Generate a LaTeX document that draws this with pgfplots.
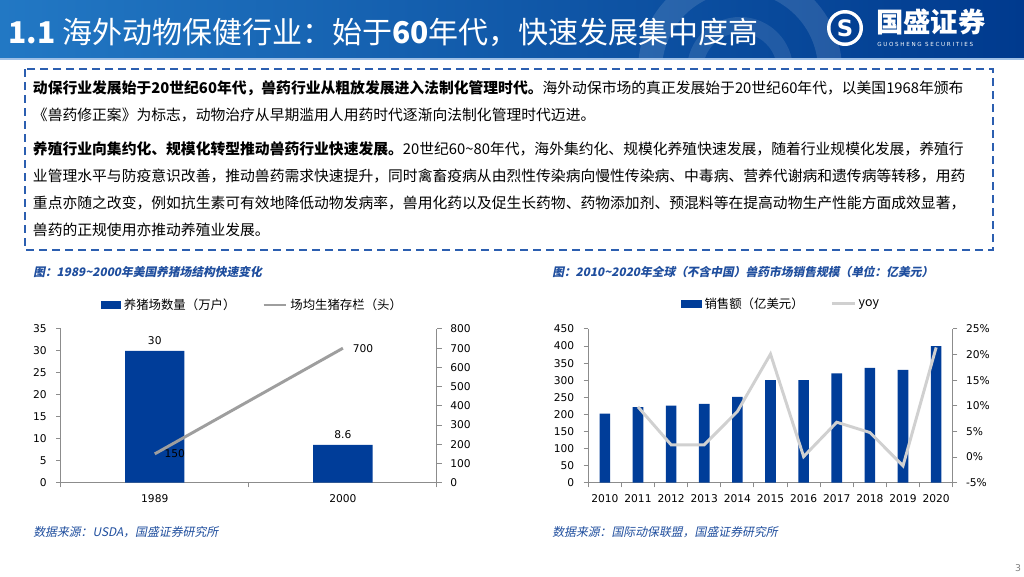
\documentclass[border=0pt]{standalone}
\usepackage{fontspec}
\setmainfont{Noto Sans CJK SC}
\newfontfamily\cjkit{Noto Sans CJK SC}[FakeSlant=0.2]
\newfontfamily\dv{DejaVu Sans}
\newfontfamily\dvsp{DejaVu Sans}[LetterSpace=30]
\usepackage{pgfplots}
\pgfplotsset{compat=1.18}

\definecolor{barblue}{HTML}{003D99}
\definecolor{ttlblue}{HTML}{1F4E9E}
\definecolor{hdrL}{HTML}{2278C4}
\definecolor{hdrR}{HTML}{003A8E}
\definecolor{hdrline}{HTML}{9FC0E6}
\definecolor{axgray}{HTML}{8C8C8C}
\definecolor{linegray}{HTML}{9E9E9E}
\definecolor{yoygray}{HTML}{D0D0D0}
\definecolor{dashblue}{HTML}{2C5FB0}

\newcommand\tk{\dv\fontsize{8}{9.6}\selectfont}
\newcommand\leg{\fontsize{9.3}{11}\selectfont}
\newcommand\body{\fontsize{11.1}{13}\selectfont}

\pgfplotsset{
  base/.style={scale only axis, anchor=south west,
    axis line style={axgray, line width=0.75pt},
    every tick/.style={axgray, line width=0.75pt},
    major tick length=3.5pt, tick align=outside,
    tick label style={font=\tk, text=black},
    xticklabel style={yshift=-1.5pt},
    /pgf/number format/assume math mode=true, clip=false},
  leftax/.style={yticklabel style={xshift=-3.5pt}},
  rightax/.style={yticklabel style={xshift=3pt}},
  leg/.style={legend style={at={#1}, anchor=center, legend columns=2,
    draw=none, fill=none, font=\leg, inner sep=0pt,
    /tikz/every even column/.append style={column sep=18pt}}},
}

\begin{document}
\begin{tikzpicture}[x=0.75pt,y=-0.75pt]
\useasboundingbox (0,0) rectangle (1024,576);
\fill[white] (0,0) rectangle (1024,576);

% header band
\shade[left color=hdrL, right color=hdrR] (0,0) rectangle (1024,58);
\begin{scope}
  \clip (0,0) rectangle (1024,58);
  \draw[white, opacity=0.12, line width=18pt] (740,70) circle (90);
  \draw[white, opacity=0.10, line width=12pt] (740,70) circle (45);
\end{scope}
\draw[hdrline, line width=1.2pt] (0,59) -- (1024,59);
\node[anchor=base west, inner sep=0, text=white, font=\fontsize{22.5}{22.5}\selectfont]
  at (8,43) {\textbf{1.1} 海外动物保健行业：始于\textbf{60}年代，快速发展集中度高};

% logo
\fill[white] (845,28) circle (18);
\fill[hdrR!90!hdrL] (845,28) circle (14.5);
\node[text=white, font=\dv\bfseries\fontsize{17}{17}\selectfont] at (845,28) {S};
\node[anchor=west, inner sep=0, text=white, font=\bfseries\fontsize{20.5}{20.5}\selectfont]
  at (876,22) {国盛证券};
\node[anchor=west, inner sep=0, text=white, font=\dvsp\fontsize{4.2}{4.2}\selectfont]
  at (877,44) {GUOSHENG SECURITIES};

% text box
\draw[dashblue, line width=1.5pt, dash pattern=on 6pt off 3.75pt] (25,69) rectangle (993,250);
\begin{scope}[every node/.style={anchor=base west, inner sep=0, font=\body}]
\node at (32.7,93.5) {\textbf{动保行业发展始于20世纪60年代，兽药行业从粗放发展进入法制化管理时代。}海外动保市场的真正发展始于20世纪60年代，以美国1968年颁布};
\node at (32.7,120.5) {《兽药修正案》为标志，动物治疗从早期滥用人用药时代逐渐向法制化管理时代迈进。};
\node at (32.7,154) {\textbf{养殖行业向集约化、规模化转型推动兽药行业快速发展。}20世纪60\textasciitilde80年代，海外集约化、规模化养殖快速发展，随着行业规模化发展，养殖行};
\node at (32.7,181.5) {业管理水平与防疫意识改善，推动兽药需求快速提升，同时禽畜疫病从由烈性传染病向慢性传染病、中毒病、营养代谢病和遗传病等转移，用药};
\node at (32.7,208.5) {重点亦随之改变，例如抗生素可有效地降低动物发病率，兽用化药以及促生长药物、药物添加剂、预混料等在提高动物生产性能方面成效显著，};
\node at (32.7,235.5) {兽药的正规使用亦推动养殖业发展。};
\end{scope}

% chart titles and sources
\begin{scope}[every node/.style={anchor=west, inner sep=0, text=ttlblue}]
\node[font=\cjkit\bfseries\fontsize{8.8}{11}\selectfont] at (33,271.7) {图：1989\textasciitilde2000年美国养猪场结构快速变化};
\node[font=\cjkit\bfseries\fontsize{8.8}{11}\selectfont] at (552,271.7) {图：2010\textasciitilde2020年全球（不含中国）兽药市场销售规模（单位：亿美元）};
\node[font=\cjkit\fontsize{8.9}{11}\selectfont] at (33,531.7) {数据来源：USDA，国盛证券研究所};
\node[font=\cjkit\fontsize{8.9}{11}\selectfont] at (552,531.7) {数据来源：国际动保联盟，国盛证券研究所};
\end{scope}
\node[text=gray, font=\dv\fontsize{7}{7}\selectfont] at (1018,568) {3};

% left chart
\coordinate (LA) at (60.7,482.7);
\begin{axis}[base, leftax, at={(LA)}, width=282.2pt, height=115.3pt,
  xmin=-0.5, xmax=1.5, ymin=0, ymax=35, ytick={0,5,...,35},
  xtick={-0.5,0.5,1.5}, x tick label as interval, xticklabels={1989,2000},
  axis x line*=bottom, axis y line*=left, leg={(0.51,1.156)}]
\addplot[ybar, bar width=44.5pt, fill=barblue, draw=none,
  nodes near coords, every node near coord/.append style={font=\tk, text=black, yshift=1pt},
  legend image code/.code={\fill[barblue] (0pt,-2.9pt) rectangle (15.5pt,2.9pt);}]
  coordinates {(0,30) (1,8.6)};
\addlegendentry{养猪场数量（万户）}
\addlegendimage{legend image code/.code={\draw[linegray,line width=2.2pt] (0pt,0pt) -- (17pt,0pt);}}
\addlegendentry{场均生猪存栏（头）}
\end{axis}
\begin{axis}[base, rightax, at={(LA)}, width=282.2pt, height=115.3pt,
  xmin=-0.5, xmax=1.5, ymin=0, ymax=800, ytick={0,100,...,800},
  axis y line*=right, axis x line=none]
\addplot[linegray, line width=2.2pt, nodes near coords,
  every node near coord/.append style={anchor=west, font=\tk, text=black, xshift=3pt}]
  coordinates {(0,150) (1,700)};
\end{axis}

% right chart
\coordinate (RA) at (588.3,482.7);
\begin{axis}[base, leftax, at={(RA)}, width=273.3pt, height=115.3pt,
  xmin=-0.5, xmax=10.5, ymin=0, ymax=450, ytick={0,50,...,450},
  xtick={-0.5,0.5,...,10.5}, x tick label as interval,
  xticklabels={2010,2011,2012,2013,2014,2015,2016,2017,2018,2019,2020},
  axis x line*=bottom, axis y line*=left, leg={(0.53,1.163)}]
\addplot[ybar, bar width=8pt, fill=barblue, draw=none,
  legend image code/.code={\fill[barblue] (0pt,-2.9pt) rectangle (15.5pt,2.9pt);}]
  coordinates {(0,202) (1,221) (2,226) (3,231) (4,251) (5,300) (6,300) (7,320) (8,336) (9,330) (10,400)};
\addlegendentry{销售额（亿美元）}
\addlegendimage{legend image code/.code={\draw[yoygray,line width=2.2pt] (0pt,0pt) -- (17pt,0pt);}}
\addlegendentry{yoy}
\end{axis}
\begin{axis}[base, rightax, at={(RA)}, width=273.3pt, height=115.3pt,
  xmin=-0.5, xmax=10.5, ymin=-5, ymax=25, ytick={-5,0,...,25},
  yticklabel={\pgfmathprintnumber{\tick}\%},
  axis y line*=right, axis x line=none]
\addplot[yoygray, line width=2.2pt]
  coordinates {(1,9.8) (2,2.4) (3,2.4) (4,8.9) (5,20.1) (6,0.1) (7,6.8) (8,4.8) (9,-1.7) (10,21.4)};
\end{axis}
\end{tikzpicture}
\end{document}
